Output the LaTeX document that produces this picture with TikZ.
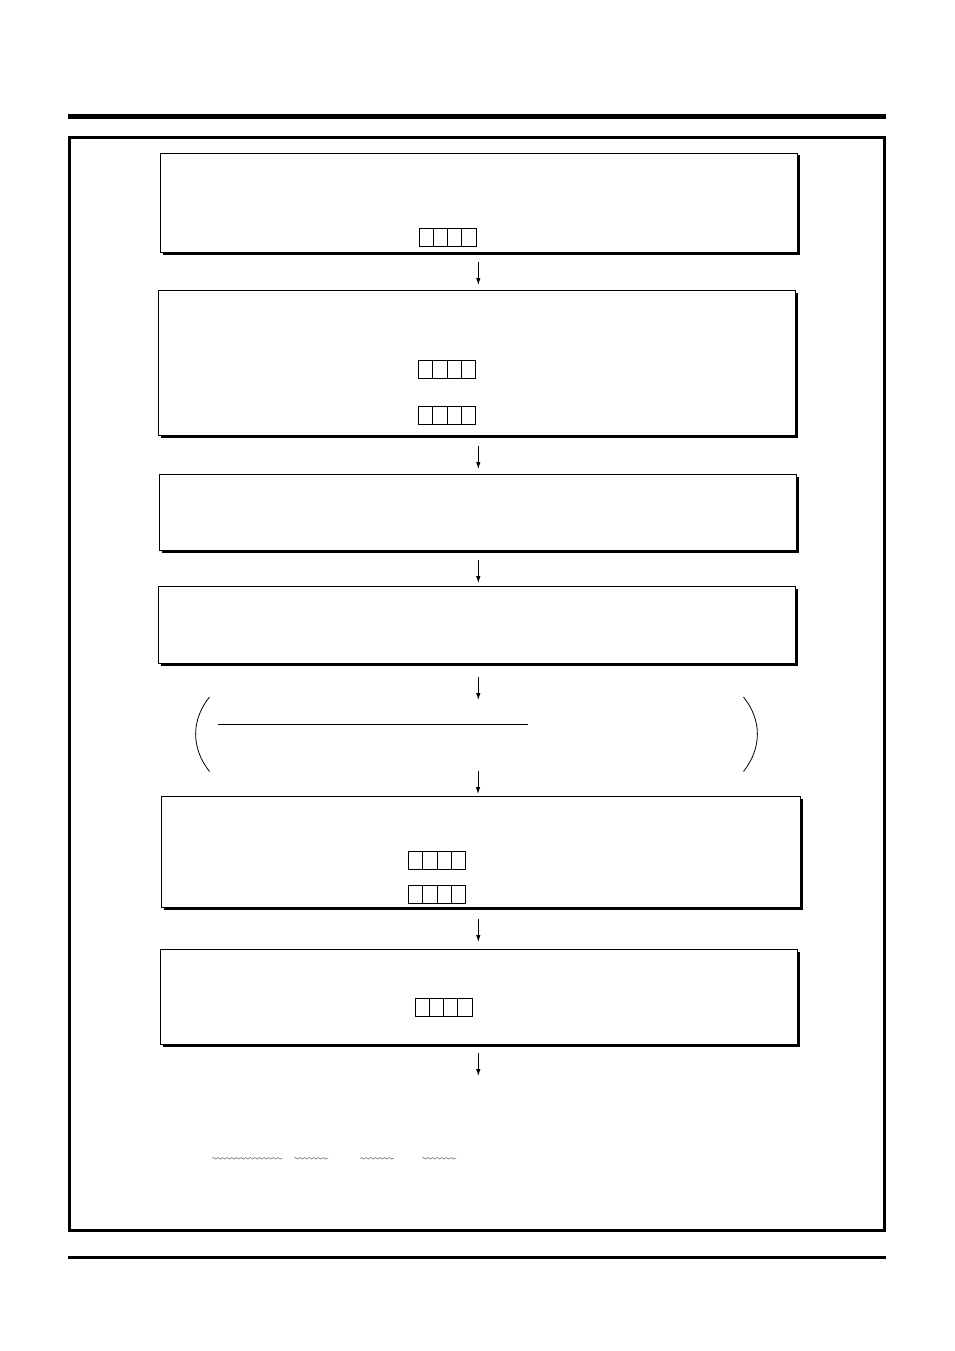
\documentclass[tikz,border=0pt]{standalone}
\usetikzlibrary{arrows.meta,calc,decorations.pathmorphing}
\begin{document}
\begin{tikzpicture}[x=1pt,y=-1pt,
  flowbox/.style={draw=black,line width=0.9pt,fill=white,inner sep=0pt,outer sep=0pt,anchor=north west},
  cellgrid/.style={draw=black,line width=0.8pt,inner sep=0pt,outer sep=0pt,anchor=north west,
    minimum width=57pt,minimum height=18pt,
    path picture={\foreach \i in {1,2,3}{\draw[line width=0.8pt]
      ($(path picture bounding box.south west)!\i/4!(path picture bounding box.south east)$) --
      ($(path picture bounding box.north west)!\i/4!(path picture bounding box.north east)$);}}},
  arr/.style={line width=0.8pt,-{Latex[length=7pt,width=4.5pt]}},
  wavy/.style={draw=black!65,line width=0.45pt,decorate,decoration={snake,segment length=4.6pt,amplitude=0.8pt}},
  headrule/.style={line width=5pt},
  shadowfill/.style={fill=black},
]
\useasboundingbox (0,0) rectangle (954,1351);
% header and footer rules
\coordinate (hl) at (68,117); \coordinate (hr) at (886,117);
\draw[headrule] (hl) -- (hr);
\coordinate (fl) at (68,1257.5); \coordinate (fr) at (886,1257.5);
\draw[line width=2.8pt] (fl) -- (fr);
% outer frame
\node[draw=black,line width=3pt,inner sep=0pt,outer sep=0pt,anchor=north west,minimum width=815pt,minimum height=1092pt] (frame) at (69.5,138) {};

% boxes
\node[flowbox,minimum width=637pt,minimum height=99pt] (b1) at (160,153) {};
\node[flowbox,minimum width=637pt,minimum height=145pt] (b2) at (158,290) {};
\node[flowbox,minimum width=637pt,minimum height=76pt] (b3) at (159,474) {};
\node[flowbox,minimum width=637pt,minimum height=77pt] (b4) at (158,586) {};
\node[flowbox,minimum width=639pt,minimum height=111pt] (b5) at (161,796.5) {};
\node[flowbox,minimum width=637pt,minimum height=95pt] (b6) at (160,949) {};
% box shadows (right and bottom)
\foreach \b in {b1,b2,b3,b4,b5,b6}{
  \fill[shadowfill] ([yshift=-2.5pt]\b.north east) rectangle ([xshift=2.6pt,yshift=-2.6pt]\b.south east);
  \fill[shadowfill] ([xshift=2.5pt]\b.south west) rectangle ([xshift=2.6pt,yshift=-2.6pt]\b.south east);
}

% cell grids
\node[cellgrid] (g1) at (419,228.5) {};
\node[cellgrid] (g2a) at (418.5,360) {};
\node[cellgrid] (g2b) at (418.5,406) {};
\node[cellgrid] (g5a) at (408.5,851.5) {};
\node[cellgrid] (g5b) at (408.5,885.5) {};
\node[cellgrid] (g6) at (415,998.5) {};

% arrows
\coordinate (a1s) at (478.3,262); \coordinate (a1e) at (478.3,285);
\coordinate (a2s) at (478.3,446); \coordinate (a2e) at (478.3,469);
\coordinate (a3s) at (478.3,560); \coordinate (a3e) at (478.3,583);
\coordinate (a4s) at (478.3,677); \coordinate (a4e) at (478.3,700);
\coordinate (a5s) at (478,771); \coordinate (a5e) at (478,794);
\coordinate (a6s) at (478.3,919); \coordinate (a6e) at (478.3,942);
\coordinate (a7s) at (478.3,1053); \coordinate (a7e) at (478.3,1076);
\foreach \k in {1,...,7}{\draw[arr] (a\k s) -- (a\k e);}

% parentheses and rule
\coordinate (plt) at (209.5,697); \coordinate (plb) at (209.5,771.5);
\draw[line width=0.8pt] (plt) .. controls (191,720) and (191,748) .. (plb);
\coordinate (prt) at (743.5,697); \coordinate (prb) at (743.5,771.5);
\draw[line width=0.8pt] (prt) .. controls (762,720) and (762,748) .. (prb);
\coordinate (ls) at (218,724.3); \coordinate (le) at (527.5,724.3);
\draw[line width=0.8pt] (ls) -- (le);

% wavy underlines
\coordinate (w1s) at (212,1158.3); \coordinate (w1e) at (282,1158.3);
\coordinate (w2s) at (294,1158.3); \coordinate (w2e) at (328,1158.3);
\coordinate (w3s) at (360,1158.3); \coordinate (w3e) at (394,1158.3);
\coordinate (w4s) at (422,1158.3); \coordinate (w4e) at (456,1158.3);
\foreach \k in {1,...,4}{\draw[wavy] (w\k s) -- (w\k e);}
\end{tikzpicture}
\end{document}
